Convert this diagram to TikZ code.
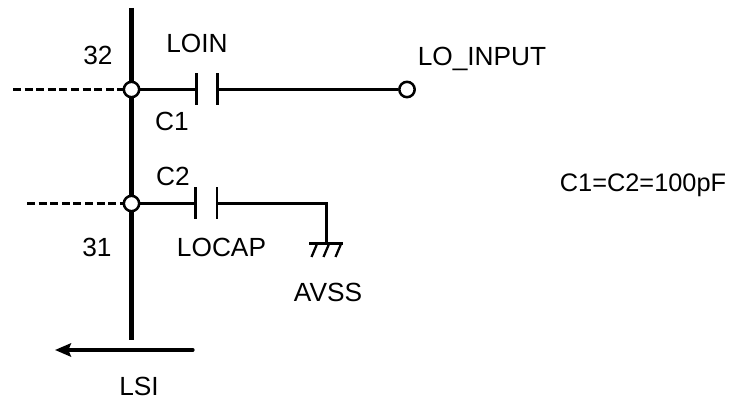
\documentclass[tikz,border=0pt]{standalone}
\usepackage{fontspec}
\setmainfont{Liberation Sans}
\usetikzlibrary{arrows.meta}
\tikzset{
  wire/.style={line width=1.9pt,black},
  bus/.style={line width=3.5pt,black},
  plate/.style={line width=1.9pt,black},
  dashline/.style={line width=1.9pt,black,dash pattern=on 6pt off 2.7pt},
  pin/.style={circle,draw=black,fill=white,line width=1.9pt,inner sep=0pt,minimum size=11.5pt},
  lab/.style={inner sep=0pt,font=\fontsize{19.7pt}{20pt}\selectfont,text=black,anchor=base},
}
\begin{document}
\begin{tikzpicture}[x=0.75pt,y=-0.75pt]
\useasboundingbox (0,0) rectangle (736,398);
\coordinate (bt) at (131.5,8);
\coordinate (bb) at (131.5,340);
\draw[bus] (bt) -- (bb);
\coordinate (d1) at (13,89.5);
\coordinate (d2) at (27,203.5);
\coordinate (c1a) at (196.5,89.5);
\coordinate (c1b) at (217.5,89.5);
\coordinate (c2a) at (195.5,203.5);
\coordinate (c2b) at (217,203.5);
\coordinate (gt) at (326.5,203.5);
\coordinate (gb) at (326.5,244);
\node[pin] (p32) at (131.5,89.5) {};
\node[pin] (p31) at (131.5,203.5) {};
\node[pin] (lo) at (407,89.5) {};
\draw[dashline] (d1) -- (p32);
\draw[dashline] (d2) -- (p31);
\draw[wire] (p32) -- (c1a);
\draw[wire] (c1b) -- (lo);
\draw[wire] (p31) -- (c2a);
\draw[wire] (c2b) -- (gt) -- (gb);
\draw[plate] (196.5,73.5) -- (196.5,105);
\draw[plate] (217.5,73.5) -- (217.5,105);
\draw[plate] (195.5,187.5) -- (195.5,219.5);
\draw[plate] (217,187.5) -- (217,219.5);
\draw[wire] (309,243.5) -- (343,243.5);
\draw[line width=1.7pt] (317,244) -- (311.5,257);
\draw[line width=1.7pt] (329,244) -- (323.5,257);
\draw[line width=1.7pt] (341,244) -- (335.5,257);
\coordinate (ar) at (193,350);
\coordinate (al) at (55,350);
\draw[line width=2.4pt,-{Stealth[length=12pt,width=10pt,inset=2pt]},line cap=round] (ar) -- (al);
\node[lab] (t32) at (98,65) {32};
\node[lab] (t31) at (97,257) {31};
\node[lab] (tloin) at (197,52.7) {LOIN};
\node[lab] (tc1) at (172,131) {C1};
\node[lab] (tc2) at (173,186) {C2};
\node[lab] (tlocap) at (221.5,257) {LOCAP};
\node[lab] (tavss) at (328,302) {AVSS};
\node[lab] (tlo) at (482,65.7) {LO\_INPUT};
\node[lab,font=\fontsize{19pt}{20pt}\selectfont] (tval) at (643,192) {C1=C2=100pF};
\node[lab] (tlsi) at (139,395.5) {LSI};
\end{tikzpicture}
\end{document}
